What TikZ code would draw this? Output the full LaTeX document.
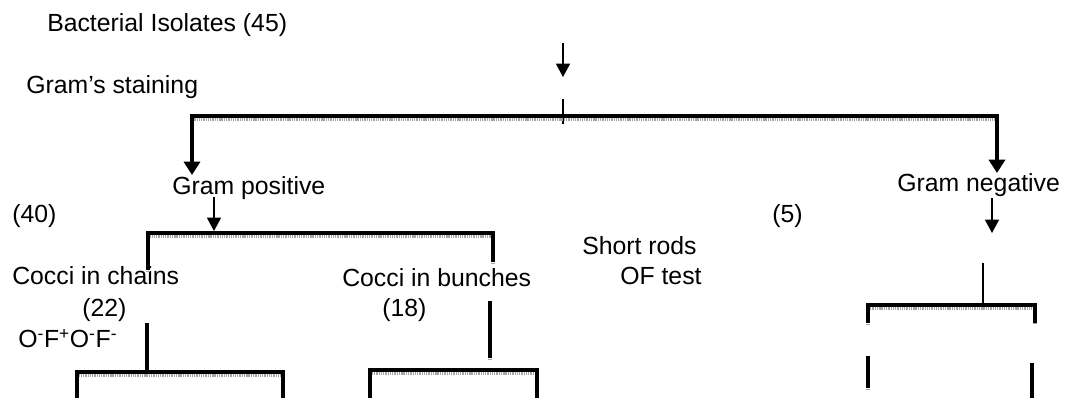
\documentclass[tikz,border=0pt]{standalone}
\usepackage{fontspec}
\setmainfont{Liberation Sans}
\usetikzlibrary{arrows.meta}
\tikzset{
	lbl/.style={anchor=base west, inner sep=0pt, font=\fontsize{18.6}{22}\selectfont},
	arr/.style={line width=1.1pt, -{Triangle[width=10.5pt,length=10pt]}},
	bigarr/.style={line width=3.4pt, line cap=rect, -{Triangle[width=12pt,length=10pt]}},
	tick/.style={line width=1.4pt},
	stem/.style={line width=3pt},
	bar/.style={line width=3.4pt, line cap=rect, preaction={draw=gray!70, line width=2.4pt, dash pattern=on 1pt off 0.7pt, transform canvas={yshift=-2.9pt}}}
}

\begin{document}
\begin{tikzpicture}[x=0.75pt, y=-0.75pt]
	\useasboundingbox (0,0) rectangle (1065,398);
	% labels
	\node[lbl] (isol) at (47,32) {Bacterial Isolates (45)};
	\node[lbl] (stain) at (26,94) {Gram's staining};
	\node[lbl] (gpos) at (172,195) {Gram positive};
	\node[lbl] (gneg) at (897,192) {Gram negative};
	\node[lbl] (n40) at (12,223) {(40)};
	\node[lbl] (n5) at (772,223) {(5)};
	\node[lbl] (chain) at (12,285) {Cocci in chains};
	\node[lbl] (n22) at (82,317) {(22)};
	\node[lbl] (oftest) at (18,348) {O\textsuperscript{-}F\textsuperscript{+}O\textsuperscript{-}F\textsuperscript{-}};
	\node[lbl] (bunch) at (342,287) {Cocci in bunches};
	\node[lbl] (n18) at (382,317) {(18)};
	\node[lbl] (rods) at (582,255) {Short rods};
	\node[lbl] (oft) at (620,285) {OF test};

	% staining split
	\coordinate (s1) at (563,43);
	\coordinate (s2) at (563,77);
	\coordinate (s3) at (563,99);
	\coordinate (s4) at (563,124);
	\coordinate (m1) at (192,116);
	\coordinate (m2) at (997,116);
	\coordinate (gp) at (192,175);
	\coordinate (gn) at (997,173);
	\draw[arr] (s1) to (s2);
	\draw[tick] (s3) to (s4);
	\draw[bar] (m1) to (m2);
	\draw[bigarr] (m1) to (gp);
	\draw[bigarr] (m2) to (gn);

	% gram positive
	\coordinate (p1) at (214,197);
	\coordinate (p2) at (214,231);
	\coordinate (pl) at (148,268);
	\coordinate (pr) at (493,260);
	\draw[arr] (p1) to (p2);
	\draw[bar] (pl) -- (148,233) -- (493,233) -- (pr);

	% cocci in chains
	\coordinate (c1) at (147,323);
	\coordinate (c2) at (147,372);
	\coordinate (cl) at (77,400);
	\coordinate (cr) at (283,400);
	\draw[stem] (c1) to (c2);
	\draw[bar] (cl) -- (77,372) -- (283,372) -- (cr);

	% cocci in bunches
	\coordinate (b1) at (490,303);
	\coordinate (b2) at (490,356);
	\coordinate (bl) at (370,400);
	\coordinate (br) at (537,400);
	\draw[bar] (b1) to (b2);
	\draw[bar] (bl) -- (370,370) -- (537,370) -- (br);

	% gram negative
	\coordinate (q1) at (992,198);
	\coordinate (q2) at (992,233);
	\coordinate (q3) at (983,263);
	\coordinate (q4) at (983,305);
	\coordinate (ql) at (868,321);
	\coordinate (qr) at (1035,321);
	\draw[arr] (q1) to (q2);
	\draw[tick] (q3) to (q4);
	\draw[bar] (ql) -- (868,305) -- (1035,305) -- (qr);
	\coordinate (u1) at (868,358);
	\coordinate (u2) at (868,386);
	\coordinate (u3) at (1032,365);
	\coordinate (u4) at (1032,400);
	\draw[bar] (u1) to (u2);
	\draw[bar] (u3) to (u4);
\end{tikzpicture}
\end{document}
